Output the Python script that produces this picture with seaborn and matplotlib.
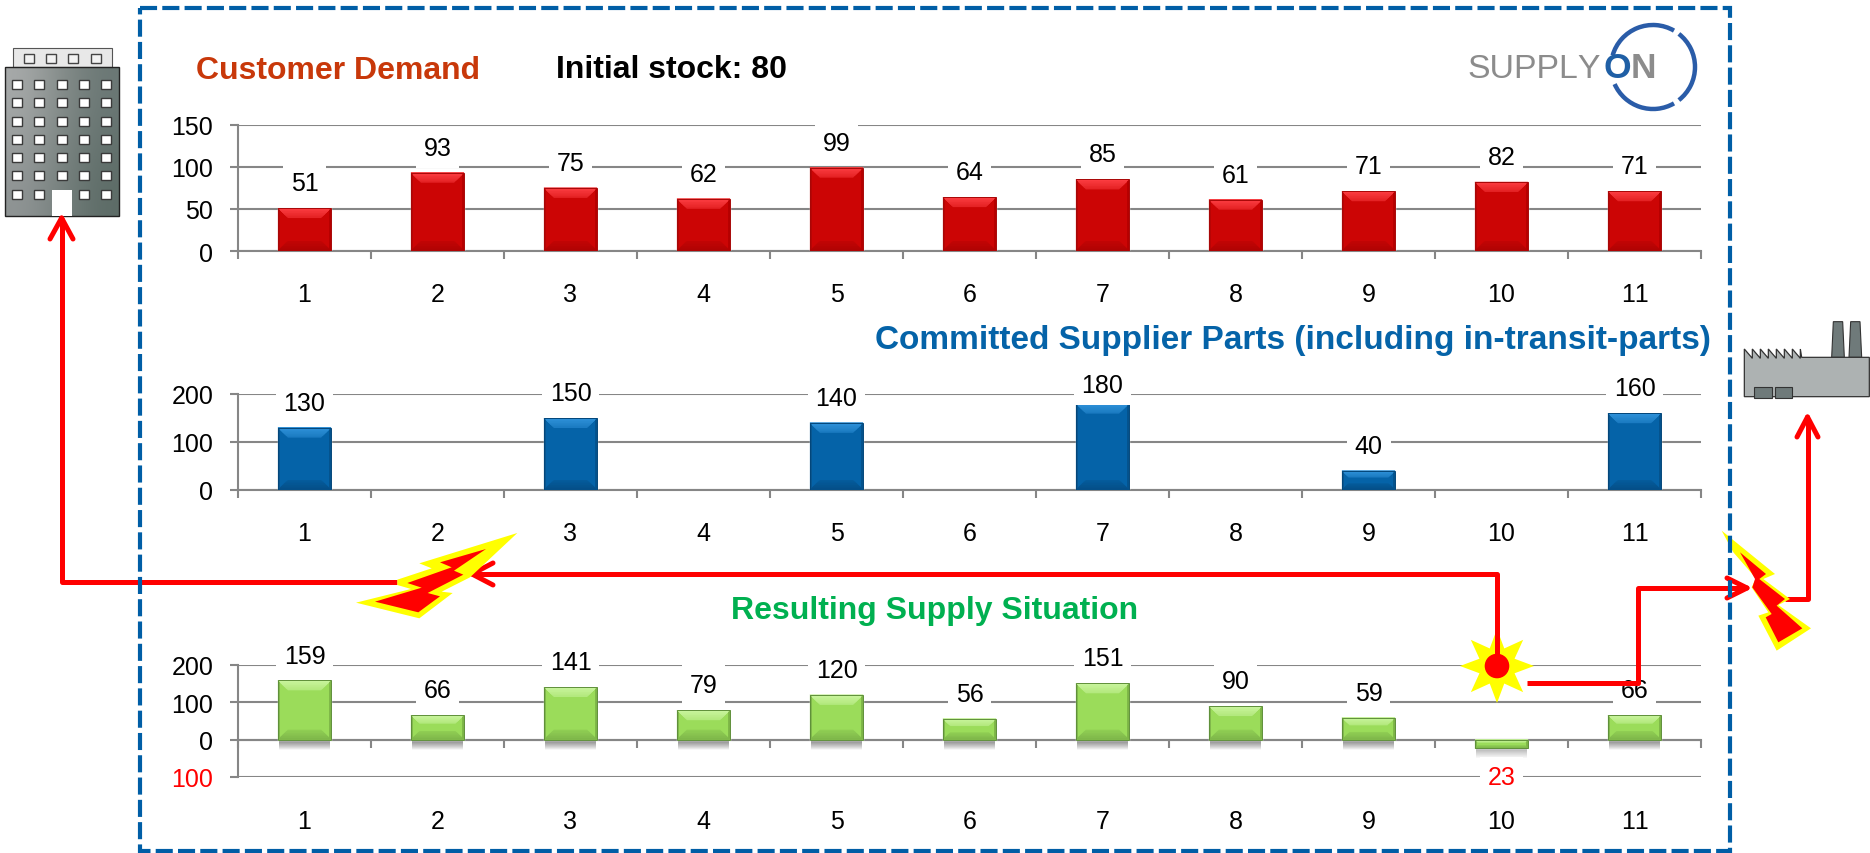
import numpy as np
import pandas as pd
import matplotlib
matplotlib.use('Agg')
import matplotlib.pyplot as plt
from matplotlib.colors import to_rgb
from matplotlib.patches import Polygon, Rectangle, Circle, Arc
from matplotlib.transforms import IdentityTransform
import seaborn as sns

W, H = 1870, 854

weeks = [str(i) for i in range(1, 12)]
demand = [51, 93, 75, 62, 99, 64, 85, 61, 71, 82, 71]
committed = [130, 0, 150, 0, 140, 0, 180, 0, 40, 0, 160]
supply = [159, 66, 141, 79, 120, 56, 151, 90, 59, -23, 66]

demand_ticks = [0, 50, 100, 150]
committed_ticks = [0, 100, 200]
supply_ticks = [-100, 0, 100, 200]
supply_ticklabels = ['100', '0', '100', '200']

sns.set_theme(style='white')
plt.rcParams['font.family'] = ['Liberation Sans', 'DejaVu Sans']
plt.rcParams['text.kerning_factor'] = 6

GRID = '#868686'
RED = '#ff0000'
YELLOW = '#ffff00'
FRAME = '#005ea6'

fig = plt.figure(figsize=(W / 100, H / 100), dpi=100, facecolor='white')


def px_axes(left, top, right, bottom, zorder=1):
    return fig.add_axes([left / W, 1 - bottom / H, (right - left) / W, (bottom - top) / H],
                        facecolor='none', zorder=zorder)


def mix(c1, c2, t):
    a, b = np.array(to_rgb(c1)), np.array(to_rgb(c2))
    return tuple(a + (b - a) * t)


def bevel(ax, bar, base, colors, shadow):
    e = bar.get_window_extent()
    x0, x1, y0, y1 = e.x0, e.x1, e.y0, e.y1
    top, side, bottom, edge = colors
    d = min(10, (y1 - y0) * 0.35)
    tr = IdentityTransform()
    for i in range(shadow):
        # soft shadow under the bar
        ax.add_patch(Rectangle((x0 + 1, y0 - i - 1), x1 - x0 - 2, 1.2, transform=tr, fc='#555555',
                               ec='none', alpha=0.45 * (1 - i / shadow), zorder=2.4))
    bar.set_zorder(3)
    steps = 6
    for k in range(steps):
        dk = d * (1 - k / steps)
        t = (k + 1) / steps
        ax.add_patch(Polygon([(x0, y1), (x1, y1), (x1 - dk, y1 - dk), (x0 + dk, y1 - dk)], transform=tr,
                             fc=mix(base, top, 0.45 + 0.55 * t), ec='none', zorder=3.1 + k * 0.001))
        ax.add_patch(Polygon([(x0, y0), (x1, y0), (x1 - dk, y0 + dk), (x0 + dk, y0 + dk)], transform=tr,
                             fc=mix(base, bottom, 0.3 + 0.7 * t), ec='none', zorder=3.1 + k * 0.001))
    ax.add_patch(Polygon([(x0, y1), (x0 + 2, y1 - 2), (x0 + 2, y0 + 2), (x0, y0)], transform=tr,
                         fc=side, ec='none', zorder=3.2))
    ax.add_patch(Polygon([(x1, y1), (x1 - 2, y1 - 2), (x1 - 2, y0 + 2), (x1, y0)], transform=tr,
                         fc=side, ec='none', zorder=3.2))
    ax.add_patch(Rectangle((x0, y0), x1 - x0, y1 - y0, transform=tr, fc='none', ec=edge, lw=0.7, zorder=3.3))


def bar_chart(box, values, ticks, ticklabels, ylim, base, colors, pad_px, shadow):
    ax = px_axes(*box)
    df = pd.DataFrame({'week': weeks, 'value': values})
    sns.barplot(data=df, x='week', y='value', color=base, saturation=1, width=0.4, ax=ax)
    ax.set_xlim(-0.5, 10.5)
    ax.set_ylim(*ylim)
    ax.set_xlabel('')
    ax.set_ylabel('')
    ax.set_yticks(ticks)
    ax.set_yticklabels(ticklabels)
    ax.set_axisbelow(True)
    ax.yaxis.grid(True, color=GRID, lw=1.5)
    ax.xaxis.grid(False)
    for s in ['top', 'right']:
        ax.spines[s].set_visible(False)
    ax.spines['left'].set_color(GRID)
    ax.spines['left'].set_linewidth(1.5)
    ax.spines['bottom'].set_color(GRID)
    ax.spines['bottom'].set_linewidth(1.5)
    ax.spines['bottom'].set_position(('data', 0))
    ax.set_xticks(np.arange(-0.5, 11), minor=True)
    ax.tick_params(axis='x', which='major', length=0, pad=pad_px * 0.72, labelsize=18, labelcolor='black')
    ax.tick_params(axis='x', which='minor', length=5.8, width=1.5, color=GRID, bottom=True)
    ax.tick_params(axis='y', which='major', length=5.8, width=1.5, color=GRID, left=True,
                   pad=12, labelsize=18, labelcolor='black')
    fig.canvas.draw()
    top_px = ax.get_window_extent().y1
    bottom_px = ax.get_window_extent().y0
    for bar, val in zip(list(ax.patches), values):
        if val == 0:
            bar.set_visible(False)
            continue
        bevel(ax, bar, base, colors, shadow)
        e = bar.get_window_extent()
        if val > 0:
            off = min(25, top_px + 9 - e.y1)
        else:
            off = bottom_px - e.y0
        ax.annotate(str(abs(val)), (bar.get_x() + bar.get_width() / 2, val),
                    xytext=(0, off * 0.72), textcoords='offset points', ha='center',
                    va='center', fontsize=18, color='black' if val > 0 else RED,
                    bbox=dict(boxstyle='square,pad=0.32', fc='white', ec='none'),
                    annotation_clip=False, zorder=6)
    return ax


bar_chart((238, 125.7, 1701, 252), demand, demand_ticks, [str(t) for t in demand_ticks], (0, 150),
          '#cc0505', ('#fb3c40', '#b50000', '#b00303', '#a80808'), 31, 5)
bar_chart((238, 395, 1701, 491), committed, committed_ticks, [str(t) for t in committed_ticks], (0, 200),
          '#0563a8', ('#2e90d8', '#04528c', '#044f88', '#03467a'), 31, 5)
ax3 = bar_chart((238, 666, 1701, 778), supply, supply_ticks, supply_ticklabels, (-100, 200),
                '#9bdc5a', ('#c8f49c', '#7cb446', '#7fb84a', '#5f8f3a'), 69, 10)
ax3.get_yticklabels()[0].set_color(RED)

# overlay in reference pixel coordinates for frame, arrows and pictures
ov = px_axes(0, 0, W, H, zorder=5)
ov.set_xlim(0, W)
ov.set_ylim(H, 0)
ov.axis('off')


def red_line(xs, ys, z=5):
    ov.plot(xs, ys, color=RED, lw=3.6, solid_capstyle='butt', solid_joinstyle='round', zorder=z)


def open_head(tip, a, b):
    for p in (a, b):
        ov.plot([p[0], tip[0]], [p[1], tip[1]], color=RED, lw=3.6, solid_capstyle='round', zorder=5)


def poly(points, ox, oy, sx, sy, color, z, **kw):
    pts = [(ox + x / sx, oy + y / sy) for x, y in points]
    ov.add_patch(Polygon(pts, closed=True, fc=color, ec=kw.get('ec', 'none'), lw=kw.get('lw', 0), zorder=z))


# red connectors
red_line([61.6, 61.6, 397], [219, 582.7, 582.7])
open_head((61.6, 219), (50, 240), (73, 240))
red_line([1497, 1497, 474], [655, 575, 575])
open_head((472, 575), (493, 564), (493, 586))
red_line([1527, 1637.5, 1637.5, 1745], [684, 684, 589, 589])
open_head((1747, 589), (1727, 579), (1727, 599))
red_line([1785, 1807.5, 1807.5], [600, 600, 420])
open_head((1807.5, 418), (1797, 438), (1818, 438))

# lightning bolts
poly([(562, 72), (268, 163), (305, 178), (202, 212), (202, 228), (243, 240), (78, 281), (268, 328),
      (368, 252), (335, 248), (420, 205)], 330, 510, 3, 3, YELLOW, 6)
poly([(468, 120), (330, 160), (365, 175), (232, 222), (275, 236), (135, 278), (265, 310), (330, 262),
      (293, 252), (400, 197), (372, 185)], 330, 510, 3, 3, RED, 7)
poly([(1115, 35), (1275, 165), (1240, 180), (1320, 240), (1285, 258), (1383, 328), (1280, 395),
      (1225, 290), (1255, 280), (1205, 205), (1218, 178), (1150, 100)], 1350, 520, 3, 3, YELLOW, 6)
poly([(1170, 100), (1248, 165), (1228, 180), (1305, 240), (1280, 260), (1357, 328), (1285, 370),
      (1247, 295), (1265, 285), (1207, 205), (1215, 180)], 1350, 520, 3, 3, RED, 7)

# burst
angles = np.deg2rad(np.arange(0, 360, 22.5))
radii = np.where(np.arange(16) % 2 == 0, 37, 19)
ov.add_patch(Polygon(np.c_[1497 + radii * np.cos(angles), 667 + radii * np.sin(angles)], fc=YELLOW, ec='none', zorder=4))
red_line([1497, 1497], [640, 660], z=5)
ov.add_patch(Circle((1497, 667), 12.3, fc=RED, ec='none', zorder=6))

# dashed frame
ov.add_patch(Rectangle((140, 9), 1590, 843, fill=False, ec=FRAME, lw=3, ls=(0, (4.1, 1.25)), capstyle='butt', zorder=8))

# building
grad = np.array([[[.66, .67, .67], [.52, .55, .54], [.42, .47, .46]],
                 [[.56, .58, .58], [.46, .50, .49], [.36, .42, .40]]])
ov.imshow(grad, extent=(5, 119, 217, 68), aspect='auto', interpolation='bicubic', zorder=3)
ov.set_xlim(0, W)
ov.set_ylim(H, 0)
ov.add_patch(Rectangle((5, 68), 114, 149, fill=False, ec='#222222', lw=1, zorder=4))
ov.add_patch(Rectangle((12.5, 49), 99.5, 19, fc='#e8e8e8', ec='#555555', lw=0.8, zorder=3))
for x in [28.6, 51, 73, 95.5]:
    ov.add_patch(Rectangle((x - 5, 54.5), 10, 9.5, fc='#f2f2f2', ec='#444444', lw=1, zorder=4))
for y in [85.7, 103.7, 122, 140, 158, 176.7, 195]:
    for x in [17.4, 39.3, 61.6, 83.5, 105.8]:
        if y == 195 and x == 61.6:
            continue
        ov.add_patch(Rectangle((x - 5, y - 4.5), 10, 9, fc='#ffffff', ec='#3a3a3a', lw=1, zorder=4))
ov.add_patch(Rectangle((52, 190.7), 19.5, 26, fc='white', ec='none', zorder=4))

# factory
sx = sy = 3
poly([(1445, 1075), (1450, 968), (1478, 968), (1483, 1075)], 1350, 0, sx, sy, '#6f7a7a', 3, ec='#333333', lw=0.8)
poly([(1497, 1075), (1502, 968), (1530, 968), (1535, 1075)], 1350, 0, sx, sy, '#6f7a7a', 3, ec='#333333', lw=0.8)
saw = [(1183, 1193), (1183, 1050)]
for x in range(1183, 1330, 24):
    saw += [(x + 24, 1078), (x + 24, 1050)]
saw += [(1355, 1075), (1558, 1075), (1558, 1193)]
poly(saw, 1350, 0, sx, sy, '#adb2b2', 4, ec='#333333', lw=0.9)
poly([(1213, 1163), (1265, 1163), (1265, 1198), (1213, 1198)], 1350, 0, sx, sy, '#6f7a7a', 5, ec='#333333', lw=0.8)
poly([(1275, 1163), (1325, 1163), (1325, 1198), (1275, 1198)], 1350, 0, sx, sy, '#6f7a7a', 5, ec='#333333', lw=0.8)

# logo
for a1, a2 in [(-164, -60), (-52, 52), (60, 156)]:
    ov.add_patch(Arc((1653, 68), 84, 84, theta1=a1, theta2=a2, color='#2a5ca8', lw=3.2, zorder=3))
ov.text(1467, 69, 'SUPPLY', fontsize=24.4, color='#8c8c8c', ha='left', va='center', zorder=4)
ov.text(1631, 69, 'O', fontsize=25.5, color='#1f5fa5', fontweight='bold', ha='right', va='center', zorder=4)
ov.text(1656, 69, 'N', fontsize=25.5, color='#8c8c8c', fontweight='bold', ha='right', va='center', zorder=4)

# titles
ov.text(196, 71, 'Customer Demand', fontsize=23, fontweight='bold', color='#c8380a', ha='left', va='center')
ov.text(556, 70, 'Initial stock: 80', fontsize=23, fontweight='bold', color='black', ha='left', va='center')
ov.text(1711, 341, 'Committed Supplier Parts (including in-transit-parts)', fontsize=24, fontweight='bold',
        color='#0563a8', ha='right', va='center')
ov.text(731, 611, 'Resulting Supply Situation', fontsize=23, fontweight='bold', color='#00b050', ha='left', va='center')

fig.savefig('out.png', dpi=100, facecolor='white')
